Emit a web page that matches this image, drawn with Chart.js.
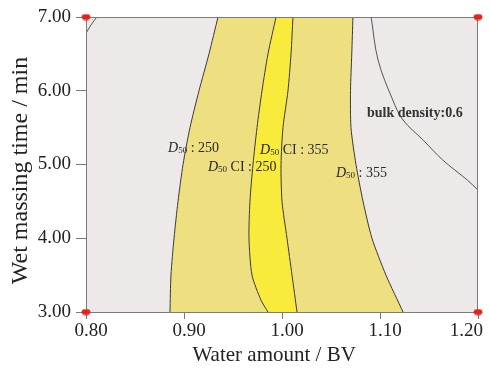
<!DOCTYPE html>
<html><head><meta charset="utf-8">
<script src="https://cdn.jsdelivr.net/npm/chart.js@4.4.1/dist/chart.umd.min.js"></script>
<style>html,body{margin:0;padding:0;background:#fff;}</style>
</head><body>
<canvas id="c" width="489" height="372"></canvas>
<script>
// ---- data ----
const xTicks = [0.80, 0.90, 1.00, 1.10, 1.20];
const yTicks = [3.00, 4.00, 5.00, 6.00, 7.00];
const designX = [0.80, 0.80, 1.20, 1.20];
const designY = [3.00, 7.00, 3.00, 7.00];
// contour D50 = 250 (left edge of pale yellow band), bottom -> top
const d50_250_x = [0.8857, 0.8867, 0.8898, 0.8939, 0.8990, 0.9061, 0.9153, 0.9255, 0.9347];
const d50_250_y = [3.0, 3.5, 4.0, 4.5, 5.0, 5.5, 6.0, 6.5, 7.0];
// D50 CI = 250 (left edge of bright band)
const ci_250_x = [0.9857, 0.9786, 0.9694, 0.9663, 0.9673, 0.9704, 0.9745, 0.9796, 0.9857, 0.9939];
const ci_250_y = [3.0, 3.16, 3.5, 4.0, 4.5, 5.0, 5.5, 6.0, 6.5, 7.0];
// D50 CI = 355 (right edge of bright band)
const ci_355_x = [1.0153, 1.0102, 1.0051, 1.0000, 0.9990, 1.0010, 1.0061, 1.0092, 1.0112];
const ci_355_y = [3.0, 3.5, 4.0, 4.5, 5.0, 5.5, 6.0, 6.5, 7.0];
// D50 = 355 (right edge of pale band)
const d50_355_x = [1.1235, 1.1061, 1.0918, 1.0827, 1.0755, 1.0704, 1.0699, 1.0712, 1.0724];
const d50_355_y = [3.0, 3.5, 4.0, 4.5, 5.0, 5.5, 6.0, 6.5, 7.0];
// bulk density = 0.6 contour
const bulk_x = [1.091, 1.098, 1.113, 1.1235, 1.144, 1.164, 1.189, 1.200];
const bulk_y = [7.0, 6.417, 5.875, 5.603, 5.332, 5.061, 4.79, 4.654];
// small contour in top-left corner
const corner_x = [0.800, 0.805, 0.811];
const corner_y = [6.78, 6.89, 7.00];
// in-plot labels: [italic D, subscript, rest, x, y]
const labelText = [
  ['D', '50', ' : 250', 0.8837, 5.237],
  ['D', '50', ' CI : 250', 0.9245, 4.98],
  ['D', '50', ' CI : 355', 0.9776, 5.21],
  ['D', '50', ' : 355', 1.055, 4.90]
];
const bulkLabel = ['bulk density:0.6', 1.0867, 5.71];

const pts = (xs, ys) => xs.map((x, i) => ({x: x, y: ys[i]}));
const poly = (ax, ay, bx, by) => pts(ax, ay).concat(pts(bx, by).reverse());

const FONT = "'Liberation Serif', 'Times New Roman', serif";
const GREY_BG = '#ECE9E8';
const PALE = '#EEDF80';
const BRIGHT = '#F9EB3C';
const AXIS = '#7a7a7a';
const NB = '\u00A0';

// red design-point marker (slightly elliptical)
const dot = document.createElement('canvas');
dot.width = 10; dot.height = 7;
(function(){const g = dot.getContext('2d'); g.fillStyle = '#E3241C';
 g.beginPath(); g.ellipse(5, 3.5, 4.5, 3.1, 0, 0, Math.PI * 2); g.fill();})();

const lineDs = (data, color, t) => ({type: 'scatter', data: data, showLine: true, borderColor: color,
  borderWidth: 1, pointRadius: 0, tension: t, fill: false, order: 1});

const bgPlugin = {
  id: 'bg',
  beforeDraw(chart) {
    const {ctx, chartArea: a} = chart;
    ctx.save(); ctx.fillStyle = GREY_BG;
    ctx.fillRect(a.left, a.top, a.right - a.left, a.bottom - a.top); ctx.restore();
  },
  beforeDatasetDraw(chart, args) {
    if (args.index !== 0) return;
    const {ctx, chartArea: a} = chart;
    ctx.save(); ctx.strokeStyle = AXIS; ctx.lineWidth = 1;
    ctx.strokeRect(Math.round(a.left) + 0.5, Math.round(a.top) + 0.5,
      Math.round(a.right - a.left) - 1, Math.round(a.bottom - a.top));
    ctx.restore();
    // labels
    const xs = chart.scales.x, ys = chart.scales.y;
    ctx.save();
    ctx.textBaseline = 'alphabetic';
    ctx.fillStyle = '#2a2a2a';
    labelText.forEach(l => {
      let px = xs.getPixelForValue(l[3]);
      const py = ys.getPixelForValue(l[4]) + 5;
      ctx.font = 'italic 14px ' + FONT; ctx.fillText(l[0], px, py); px += ctx.measureText(l[0]).width;
      ctx.font = '9px ' + FONT; ctx.fillText(l[1], px, py + 1); px += ctx.measureText(l[1]).width;
      ctx.font = '14px ' + FONT; ctx.fillText(l[2], px, py);
    });
    ctx.font = 'bold 14px ' + FONT; ctx.fillStyle = '#333';
    ctx.fillText(bulkLabel[0], xs.getPixelForValue(bulkLabel[1]), ys.getPixelForValue(bulkLabel[2]) + 5);
    ctx.restore();
  }
};

new Chart(document.getElementById('c'), {
  type: 'scatter',
  data: {
    datasets: [
      {data: pts(designX, designY), pointStyle: dot, pointRadius: 5, clip: false, order: 0},
      lineDs(pts(bulk_x, bulk_y), '#555', 0.35),
      lineDs(pts(corner_x, corner_y), '#555', 0.3),
      lineDs(pts(d50_250_x, d50_250_y), '#3a3a3a', 0.25),
      lineDs(pts(ci_250_x, ci_250_y), '#3a3a3a', 0.25),
      lineDs(pts(ci_355_x, ci_355_y), '#3a3a3a', 0.25),
      lineDs(pts(d50_355_x, d50_355_y), '#3a3a3a', 0.25),
      {data: poly(ci_250_x, ci_250_y, ci_355_x, ci_355_y), showLine: true, borderWidth: 0,
        pointRadius: 0, tension: 0, fill: 'shape', backgroundColor: BRIGHT, order: 2},
      {data: poly(d50_250_x, d50_250_y, d50_355_x, d50_355_y), showLine: true, borderWidth: 0,
        pointRadius: 0, tension: 0, fill: 'shape', backgroundColor: PALE, order: 3}
    ]
  },
  options: {
    responsive: false, animation: false, devicePixelRatio: 1,
    layout: {padding: {left: 0, right: 11, top: 17, bottom: 0}},
    plugins: {legend: {display: false}, tooltip: {enabled: false}},
    scales: {
      x: {
        type: 'linear', min: 0.8, max: 1.2,
        afterBuildTicks: s => { s.ticks = xTicks.map(v => ({value: v})); },
        afterFit: s => { s.height = 60; s.paddingLeft = 0; s.paddingRight = 0; },
        ticks: {
          callback: (v, i, arr) => Number(v).toFixed(2) + (i === arr.length - 1 ? NB.repeat(7) : ''),
          font: {family: FONT, size: 19}, color: '#222',
          padding: 1, labelOffset: 5, maxRotation: 0, autoSkip: false},
        grid: {drawOnChartArea: false, drawTicks: true, tickLength: 7, color: AXIS},
        border: {color: AXIS},
        title: {display: true, text: 'Water amount / BV' + NB.repeat(3), font: {family: FONT, size: 21}, color: '#222',
          padding: {top: 0, bottom: 4}}
      },
      y: {
        type: 'linear', min: 3, max: 7,
        afterBuildTicks: s => { s.ticks = yTicks.map(v => ({value: v})); },
        afterFit: s => { s.width = 86; s.paddingTop = 0; s.paddingBottom = 0; },
        ticks: {callback: v => Number(v).toFixed(2), font: {family: FONT, size: 19}, color: '#222',
          padding: 5, autoSkip: false},
        grid: {drawOnChartArea: false, drawTicks: true, tickLength: 10, color: AXIS},
        border: {color: AXIS},
        title: {display: true, text: 'Wet massing time / min' + NB.repeat(2), font: {family: FONT, size: 24}, color: '#222',
          padding: {top: 6, bottom: 0}}
      }
    }
  },
  plugins: [bgPlugin]
});
</script>
</body></html>
